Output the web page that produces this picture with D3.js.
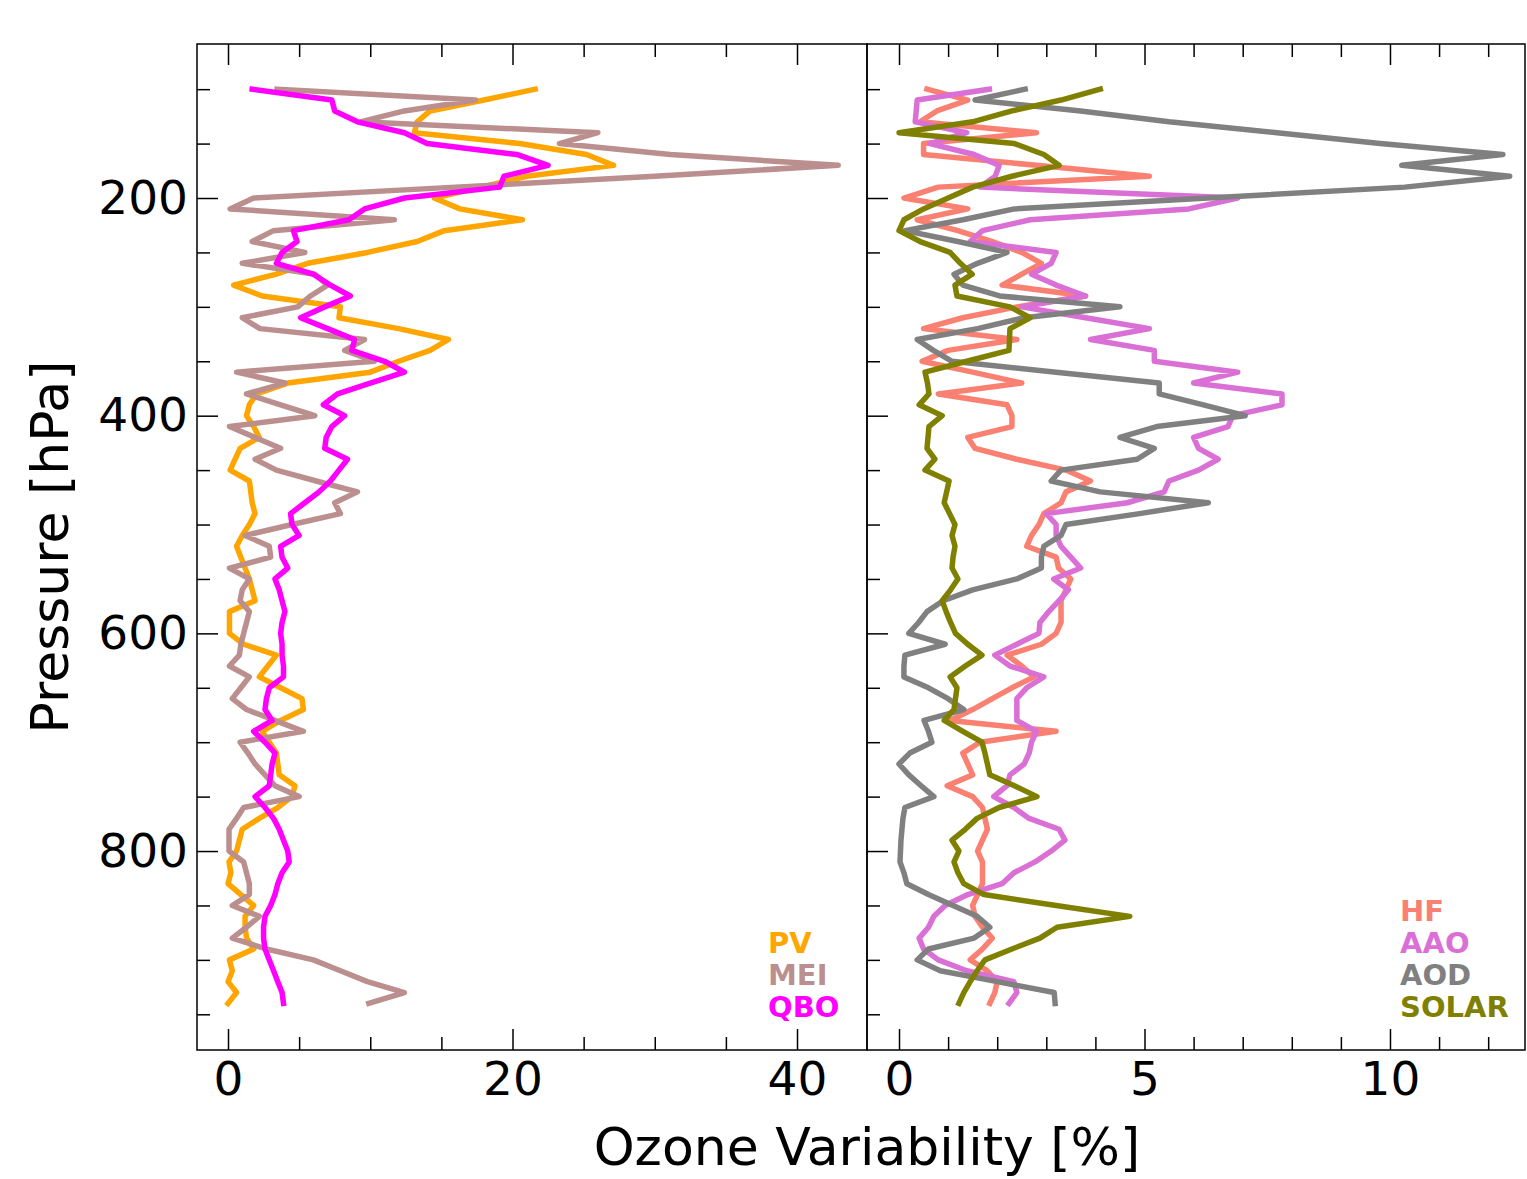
<!DOCTYPE html>
<html>
<head>
<meta charset="utf-8">
<script src="https://cdn.jsdelivr.net/npm/d3@7"></script>
<style>
	body { margin: 0; background: white; }
	svg { display: block; font-family: "DejaVu Sans", sans-serif; }
</style>
</head>
<body>
<svg id="chart"></svg>
<script>
let width = 1527;
let height = 1179;

// pressure levels [hPa]
const levels = [100, 110, 120, 130, 140, 150, 160, 170, 180, 190,
	200, 210, 220, 230, 240, 250, 260, 270, 280, 290,
	300, 310, 320, 330, 340, 350, 360, 370, 380, 390,
	400, 410, 420, 430, 440, 450, 460, 470, 480, 490,
	500, 510, 520, 530, 540, 550, 560, 570, 580, 590,
	600, 610, 620, 630, 640, 650, 660, 670, 680, 690,
	700, 710, 720, 730, 740, 750, 760, 770, 780, 790,
	800, 810, 820, 830, 840, 850, 860, 870, 880, 890,
	900, 910, 920, 930, 940];

// left panel
const pvValues = [21.6, 18.0, 14.2, 13.3, 13.1, 20.5, 25.2, 27.1, 21.0, 17.8,
	14.5, 16.3, 20.7, 15.2, 13.3, 9.8, 5.6, 3.4, 0.4, 2.4,
	7.9, 7.8, 12.0, 15.5, 14.2, 12.0, 10.0, 4.2, 2.0, 1.5,
	1.3, 1.8, 2.2, 0.85, 0.5, 0.15, 1.5, 1.6, 1.7, 1.9,
	1.5, 1.0, 0.6, 0.9, 1.2, 1.5, 1.7, 1.9, 0.1, 0.1,
	0.1, 1.1, 3.4, 2.8, 2.2, 3.7, 5.2, 5.3, 3.7, 2.4,
	2.9, 3.4, 3.5, 3.6, 4.7, 4.5, 3.5, 2.2, 1.0, 0.8,
	0.6, 0.07, 0.2, 0.0, 0.9, 1.8, 1.2, 1.2, 1.3, 1.8,
	0.1, 0.3, 0.0, 0.6, 0.0];
const meiValues = [3.45, 17.4, 12.4, 9.3, 26.0, 23.3, 31.1, 42.9, 30.0, 16.0,
	1.8, 0.15, 11.7, 3.2, 1.7, 5.4, 1.0, 6.1, 7.0, 5.8,
	4.9, 1.0, 2.25, 9.6, 8.2, 10.3, 0.6, 4.0, 1.3, 3.7,
	6.1, 0.1, 1.9, 3.7, 1.9, 3.4, 6.2, 9.1, 7.5, 7.9,
	4.5, 1.2, 2.9, 3.0, 0.1, 1.5, 1.0, 0.85, 1.5, 1.3,
	1.1, 0.9, 0.8, 0.1, 1.5, 0.9, 0.3, 1.3, 3.3, 5.3,
	0.85, 1.4, 1.9, 2.6, 3.3, 5.0, 1.1, 0.6, 0.07, 0.07,
	0.07, 1.1, 1.3, 1.5, 1.5, 0.3, 2.2, 1.3, 0.3, 2.7,
	6.0, 7.9, 9.8, 12.4, 9.9];
const qboValues = [1.7, 7.3, 7.5, 9.1, 12.4, 14.0, 20.3, 22.5, 19.4, 19.1,
	12.4, 9.6, 8.5, 4.6, 4.85, 3.8, 3.4, 6.0, 7.2, 8.6,
	6.8, 5.1, 7.0, 8.9, 8.7, 11.0, 12.4, 10.0, 7.7, 6.7,
	8.2, 7.3, 6.9, 6.8, 8.4, 7.8, 7.2, 6.4, 5.4, 4.4,
	4.5, 5.0, 3.7, 3.8, 4.2, 3.3, 3.6, 3.8, 4.0, 3.8,
	3.7, 3.8, 3.8, 3.9, 3.9, 2.9, 2.7, 2.6, 3.1, 1.8,
	2.6, 3.3, 3.1, 3.0, 2.9, 1.9, 2.6, 3.2, 3.6, 3.9,
	4.2, 4.3, 3.8, 3.5, 3.3, 3.0, 2.6, 2.5, 2.5, 2.6,
	2.9, 3.2, 3.5, 3.8, 3.9];

// right panel
const hfValues = [0.57, 1.4, 0.77, 0.43, 2.8, 0.5, 0.5, 2.8, 5.1, 0.8,
	0.1, 1.4, 0.37, 1.2, 1.9, 2.5, 2.9, 2.5, 2.1, 3.8,
	2.4, 1.3, 0.5, 2.4, 1.0, 0.47, 1.5, 2.5, 0.8, 2.2,
	2.3, 2.3, 1.4, 1.55, 2.4, 3.4, 3.9, 3.4, 3.3, 2.95,
	2.85, 2.7, 2.6, 3.2, 3.25, 3.5, 3.4, 3.3, 3.3, 3.3,
	3.2, 2.9, 2.2, 2.5, 2.75, 2.3, 1.9, 1.5, 1.04, 3.2,
	1.65, 1.3, 1.4, 1.5, 0.98, 1.5, 1.7, 1.75, 1.8, 1.7,
	1.6, 1.7, 1.7, 1.7, 1.6, 1.5, 1.55, 1.7, 1.9, 1.7,
	1.45, 1.8, 2.0, 1.95, 1.85];
const aaoValues = [1.84, 0.37, 0.35, 0.33, 1.38, 0.63, 1.53, 2.04, 1.96, 1.65,
	6.9, 5.9, 2.67, 1.7, 1.45, 3.2, 3.1, 2.7, 3.2, 3.8,
	2.5, 3.8, 5.1, 3.9, 5.2, 5.2, 6.9, 6.0, 7.8, 7.8,
	6.8, 6.7, 6.0, 6.1, 6.5, 6.1, 5.5, 5.4, 4.65, 3.0,
	3.2, 3.2, 3.3, 3.5, 3.7, 3.15, 3.45, 3.26, 3.05, 2.87,
	2.85, 2.4, 1.95, 2.26, 2.95, 2.6, 2.4, 2.4, 2.4, 2.8,
	2.7, 2.65, 2.55, 2.26, 2.2, 1.93, 2.34, 2.65, 3.26, 3.38,
	3.1, 2.77, 2.34, 2.1, 1.4, 0.94, 0.71, 0.6, 0.41, 0.5,
	0.8, 1.38, 2.34, 2.4, 2.24];
const aodValues = [2.57, 1.55, 3.7, 5.5, 7.7, 9.8, 12.3, 10.24, 12.44, 10.3,
	6.3, 2.35, 1.3, 0.12, 1.2, 2.2, 1.6, 1.12, 1.3, 2.05,
	4.5, 2.55, 1.6, 0.37, 0.7, 1.08, 3.2, 5.3, 5.3, 6.2,
	7.05, 5.25, 4.5, 5.2, 4.85, 3.3, 3.1, 4.1, 6.3, 4.9,
	3.4, 3.3, 2.95, 2.9, 2.9, 2.4, 1.5, 0.9, 0.57, 0.4,
	0.2, 0.94, 0.12, 0.1, 0.1, 0.6, 1.0, 1.32, 0.51, 0.6,
	0.67, 0.22, 0.0, 0.2, 0.45, 0.71, 0.12, 0.08, 0.06, 0.04,
	0.03, 0.02, 0.1, 0.16, 0.6, 1.1, 1.59, 1.85, 1.53, 0.6,
	0.37, 0.84, 2.0, 3.16, 3.18];
const solarValues = [4.1, 3.3, 2.3, 1.5, 0.0, 2.35, 2.95, 3.26, 2.3, 1.5,
	1.0, 0.5, 0.1, 0.0, 0.43, 1.04, 1.25, 1.49, 1.14, 1.18,
	2.26, 2.67, 2.26, 2.25, 2.24, 1.38, 0.53, 0.58, 0.61, 0.41,
	0.88, 0.61, 0.59, 0.57, 0.73, 0.53, 1.02, 0.97, 0.92, 1.03,
	1.14, 1.08, 1.14, 1.1, 1.08, 1.2, 1.05, 0.88, 0.96, 1.05,
	1.15, 1.4, 1.69, 1.35, 1.04, 1.18, 1.15, 1.12, 0.92, 1.3,
	1.69, 1.75, 1.8, 1.85, 2.35, 2.81, 2.04, 1.59, 1.35, 1.08,
	1.22, 1.12, 1.2, 1.32, 1.73, 3.2, 4.7, 3.22, 2.87, 2.3,
	1.75, 1.59, 1.45, 1.32, 1.22];

const leftSeries = [
	{ name: "PV", values: pvValues, colour: "#ffa500" },
	{ name: "MEI", values: meiValues, colour: "#bc8f8f" },
	{ name: "QBO", values: qboValues, colour: "#ff00ff" },
];
const rightSeries = [
	{ name: "HF", values: hfValues, colour: "#fa8072" },
	{ name: "AAO", values: aaoValues, colour: "#da70d6" },
	{ name: "AOD", values: aodValues, colour: "#808080" },
	{ name: "SOLAR", values: solarValues, colour: "#808000" },
];

const yMajor = [200, 400, 600, 800];
const yMinor = [100, 150, 250, 300, 350, 450, 500, 550, 650, 700, 750, 850, 900, 950];
const leftMajor = [0, 20, 40];
const leftMinor = [5, 10, 15, 25, 30, 35];
const rightMajor = [0, 5, 10];
const rightMinor = [1, 2, 3, 4, 6, 7, 8, 9, 11, 12];

const plotTop = 44, plotBottom = 1050;
const y = d3.scaleLinear().domain([58.5, 982.8]).range([plotTop, plotBottom]);

const panels = [
	{
		series: leftSeries,
		x: d3.scaleLinear().domain([-2.18, 44.92]).range([197, 867]),
		major: leftMajor,
		minor: leftMinor,
		labels: true,
		legendX: 768,
		legendBase: 953,
	},
	{
		series: rightSeries,
		x: d3.scaleLinear().domain([-0.652, 12.75]).range([867, 1525]),
		major: rightMajor,
		minor: rightMinor,
		labels: false,
		legendX: 1400,
		legendBase: 921,
	},
];

function draw() {
	const svg = d3.select("#chart");
	svg.selectAll("*").remove();
	svg.attr("width", width).attr("height", height);

	panels.forEach((panel) => {
		const x = panel.x;
		const g = svg.append("g");
		const x0 = x.range()[0];
		const x1 = x.range()[1];

		// lines
		const line = d3
			.line()
			.x((d) => x(d.v))
			.y((d) => y(d.p));

		g.append("g")
			.selectAll("path")
			.data(panel.series)
			.enter()
			.append("path")
			.attr("d", (s) => line(s.values.map((v, i) => ({ v: v, p: levels[i] }))))
			.attr("fill", "none")
			.attr("stroke", (s) => s.colour)
			.attr("stroke-width", 5.5)
			.attr("stroke-linejoin", "round")
			.attr("stroke-linecap", "square");

		// x ticks, top and bottom
		const xMinorB = d3.axisBottom(x).tickValues(panel.minor).tickSize(-13).tickFormat("");
		const xMajorB = d3.axisBottom(x).tickValues(panel.major).tickSize(-21).tickPadding(12);
		const xMinorT = d3.axisTop(x).tickValues(panel.minor).tickSize(-13).tickFormat("");
		const xMajorT = d3.axisTop(x).tickValues(panel.major).tickSize(-21).tickFormat("");
		g.append("g").attr("transform", `translate(0,${plotBottom})`).call(xMinorB);
		g.append("g").attr("transform", `translate(0,${plotBottom})`).attr("class", "lab").call(xMajorB);
		g.append("g").attr("transform", `translate(0,${plotTop})`).call(xMinorT);
		g.append("g").attr("transform", `translate(0,${plotTop})`).call(xMajorT);

		// y ticks on the panel's left side
		const yMinorAx = d3.axisLeft(y).tickValues(yMinor).tickSize(-13).tickFormat("");
		const yMajorAx = d3.axisLeft(y).tickValues(yMajor).tickSize(-21).tickPadding(9);
		if (!panel.labels) yMajorAx.tickFormat("");
		g.append("g").attr("transform", `translate(${x0},0)`).call(yMinorAx);
		g.append("g").attr("transform", `translate(${x0},0)`).attr("class", "lab").call(yMajorAx);

		g.selectAll(".domain").remove();
		g.selectAll(".tick line").attr("stroke", "#000").attr("stroke-width", 1.5);
		g.selectAll(".lab text").attr("font-size", 47).attr("fill", "#000").attr("font-family", "DejaVu Sans");

		// frame
		g.append("rect")
			.attr("x", x0)
			.attr("y", plotTop)
			.attr("width", x1 - x0)
			.attr("height", plotBottom - plotTop)
			.attr("fill", "none")
			.attr("stroke", "#000")
			.attr("stroke-width", 1.5);

		// legend, coloured labels only
		g.append("g")
			.selectAll("text")
			.data(panel.series)
			.enter()
			.append("text")
			.attr("x", panel.legendX)
			.attr("y", (s, i) => panel.legendBase + i * 32)
			.attr("fill", (s) => s.colour)
			.attr("font-size", 29)
			.attr("font-weight", "bold")
			.text((s) => s.name);
	});

	svg.append("text")
		.attr("x", 867)
		.attr("y", 1165)
		.attr("text-anchor", "middle")
		.attr("font-size", 52)
		.text("Ozone Variability [%]");

	svg.append("text")
		.attr("transform", "translate(68,547) rotate(-90)")
		.attr("text-anchor", "middle")
		.attr("font-size", 52)
		.text("Pressure [hPa]");
}

draw();
</script>
</body>
</html>
